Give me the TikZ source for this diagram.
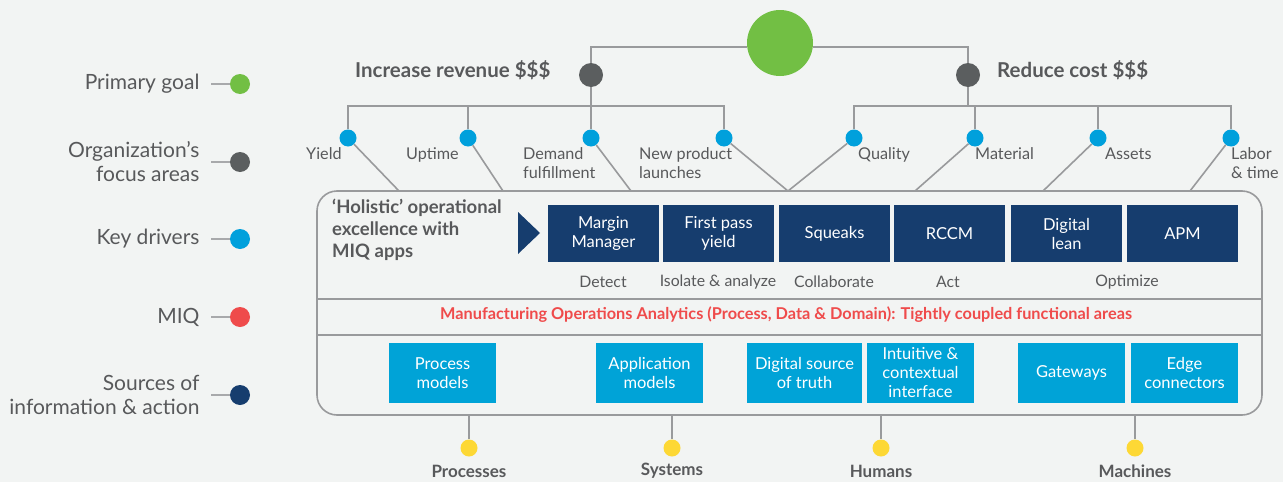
\documentclass[tikz,border=0pt]{standalone}
\usepackage{fontspec}
\setmainfont{Lato}
\usetikzlibrary{calc}
\definecolor{bgc}{HTML}{F2F4F3}
\definecolor{linec}{HTML}{999A9C}
\definecolor{txt}{HTML}{58595B}
\definecolor{goalc}{HTML}{72BF44}
\definecolor{focusc}{HTML}{5B5E5F}
\definecolor{driverc}{HTML}{00A0DC}
\definecolor{miqc}{HTML}{EF4B4B}
\definecolor{navyc}{HTML}{163D6E}
\definecolor{skyc}{HTML}{00A3D7}
\definecolor{sunc}{HTML}{FDD835}
\tikzset{
  conn/.style={draw=linec, line width=1.6pt},
  dotc/.style={circle, fill=#1, inner sep=0pt, minimum size=20pt},
  drv/.style={circle, fill=driverc, inner sep=0pt, minimum size=17pt},
  src/.style={circle, fill=sunc, inner sep=0pt, minimum size=17pt},
  legtext/.style={anchor=east, text=txt, align=right, font=\fontsize{21}{24}\selectfont},
  drvlabel/.style={anchor=north west, text=txt, align=left, inner sep=0pt, font=\fontsize{16.2}{19}\selectfont},
  headtext/.style={text=txt, font=\bfseries\fontsize{20.5}{22}\selectfont, inner sep=0pt},
  appbox/.style={fill=navyc, text=white, align=center, inner sep=0pt, minimum width=111pt, minimum height=57pt, font=\fontsize{16.5}{19}\selectfont},
  srcbox/.style={fill=skyc, text=white, align=center, inner sep=0pt, minimum width=107pt, minimum height=60pt, font=\fontsize{16.5}{19}\selectfont},
  stagetext/.style={text=txt, inner sep=0pt, font=\fontsize{15.8}{18}\selectfont},
  srclabel/.style={text=txt, inner sep=0pt, font=\bfseries\fontsize{17}{19}\selectfont},
}
\begin{document}
\begin{tikzpicture}[x=1pt, y=-1pt]
\useasboundingbox (0,0) rectangle (1283,482);
\fill[bgc] (0,0) rectangle (1283,482);

% ---- legend ----
\foreach \i/\y/\c/\t in {1/84/goalc/{Primary goal},
                         2/162/focusc/{Organization's\\focus areas},
                         3/239/driverc/{Key drivers},
                         4/317/miqc/{MIQ},
                         5/395/navyc/{Sources of\\information \& action}} {
  \node[dotc=\c] (ld\i) at (240,\y) {};
  \node[legtext] (lt\i) at (203,\y) {\t};
  \coordinate (lc\i) at (211,\y);
  \draw[conn, draw=linec!85] (lc\i) -- (ld\i);
}

% ---- goal and focus areas ----
\node[circle, fill=goalc, inner sep=0pt, minimum size=66pt] (goal) at (780,43) {};
\node[dotc=focusc, minimum size=24pt] (rev) at (591,75) {};
\node[dotc=focusc, minimum size=24pt] (cost) at (968,75) {};
\node[headtext, anchor=west] (revt) at (355,70) {Increase revenue \$\$\$};
\node[headtext, anchor=west] (costt) at (997,70) {Reduce cost \$\$\$};
\coordinate (topbar) at (0,47);
\draw[conn] (rev.north) -- (rev.north |- topbar) -- (goal.west |- topbar);
\draw[conn] (cost.north) -- (cost.north |- topbar) -- (goal.east |- topbar);

% ---- key drivers ----
\coordinate (bus) at (0,106);
\foreach \n/\x in {yield/348, uptime/468, demand/591, launch/724,
                   quality/854, material/975, assets/1098, labor/1231} {
  \node[drv] (\n) at (\x,138) {};
}
\draw[conn] (yield.north) |- (launch.north |- bus) -- (launch.north);
\draw[conn] (uptime.north) -- (uptime.north |- bus);
\draw[conn] (rev.south) -- (demand.north);
\draw[conn] (quality.north) |- (labor.north |- bus) -- (labor.north);
\draw[conn] (material.north) -- (material.north |- bus);
\draw[conn] (assets.north) -- (assets.north |- bus);
\draw[conn] (cost.south) -- (cost.south |- bus);

\node[drvlabel] (yieldt) at (306,147.5) {Yield};
\node[drvlabel] (uptimet) at (406,147.5) {Uptime};
\node[drvlabel] (demandt) at (523,147.5) {Demand\\fulfillment};
\node[drvlabel] (launcht) at (639,147.5) {New product\\launches};
\node[drvlabel] (qualityt) at (858,147.5) {Quality};
\node[drvlabel] (materialt) at (975,147.5) {Material};
\node[drvlabel] (assetst) at (1105,147.5) {Assets};
\node[drvlabel] (labort) at (1231,147.5) {Labor\\\& time};

% ---- MIQ frame ----
\node[draw=linec, line width=1.6pt, rounded corners=20pt, inner sep=0pt,
      minimum width=945pt, minimum height=224pt] (frame) at (789.5,303) {};
\coordinate (div1) at (0,299);
\coordinate (div2) at (0,335);
\draw[conn] (frame.west |- div1) -- (frame.east |- div1);
\draw[conn] (frame.west |- div2) -- (frame.east |- div2);

% drivers feeding the frame
\foreach \n/\x in {yield/399, uptime/503, demand/631, launch/788,
                   quality/788, material/915, assets/1043, labor/1190} {
  \coordinate (in-\n) at (\x,191);
  \draw[conn] (\n) -- (in-\n);
}

% apps row
\node[anchor=north west, text=txt, align=left, inner sep=0pt,
      font=\bfseries\fontsize{18.5}{22}\selectfont] (holistic) at (332,199)
      {`Holistic' operational\\excellence with\\MIQ apps};
\fill[navyc] (518,212) -- (540,233) -- (518,254) -- cycle;
\node[appbox] (margin) at (603.5,233.5) {Margin\\Manager};
\node[appbox] (fpy) at (718.5,233.5) {First pass\\yield};
\node[appbox] (squeaks) at (834.5,233.5) {Squeaks};
\node[appbox] (rccm) at (949.5,233.5) {RCCM};
\node[appbox] (lean) at (1066.5,233.5) {Digital\\lean};
\node[appbox] (apm) at (1182.5,233.5) {APM};

\node[stagetext] (detect) at (603,282) {Detect};
\node[stagetext] (isolate) at (718,282) {Isolate \& analyze};
\node[stagetext] (collab) at (834,282) {Collaborate};
\node[stagetext] (act) at (948,282) {Act};
\node[stagetext] (optimize) at (1127,282) {Optimize};

% analytics band
\node[text=miqc, inner sep=0pt, font=\bfseries\fontsize{16.3}{18}\selectfont] (moa) at (786,315)
  {Manufacturing Operations Analytics (Process, Data \& Domain): Tightly coupled functional areas};

% sources row
\node[srcbox] (procm) at (442.5,373) {Process\\models};
\node[srcbox] (appm) at (649.5,373) {Application\\models};
\node[srcbox, minimum width=115pt] (dsot) at (804.5,373) {Digital source\\of truth};
\node[srcbox] (intui) at (920.5,373) {Intuitive \&\\contextual\\interface};
\node[srcbox] (gate) at (1071.5,373) {Gateways};
\node[srcbox] (edge) at (1184.5,373) {Edge\\connectors};

% ---- sources below ----
\foreach \n/\x/\t in {processes/469/Processes, systems/672/Systems,
                      humans/881/Humans, machines/1135/Machines} {
  \node[src] (\n) at (\x,448) {};
  \draw[conn] (frame.south -| \n) -- (\n);
  \node[srclabel] (\n-t) at (\x,471) {\t};
}
\end{tikzpicture}
\end{document}
